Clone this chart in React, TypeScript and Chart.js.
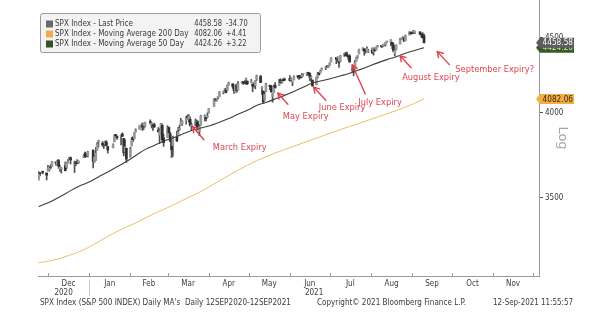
import React, { useEffect, useRef } from "react";
import { Chart, registerables } from "chart.js";
Chart.register(...registerables);

// ---------------- DATA ----------------
const tradeDates = [
  "2020-11-24","2020-11-25","2020-11-27","2020-11-30",
  "2020-12-01","2020-12-02","2020-12-03","2020-12-04","2020-12-07","2020-12-08","2020-12-09","2020-12-10","2020-12-11","2020-12-14","2020-12-15","2020-12-16","2020-12-17","2020-12-18","2020-12-21","2020-12-22","2020-12-23","2020-12-24","2020-12-28","2020-12-29","2020-12-30","2020-12-31",
  "2021-01-04","2021-01-05","2021-01-06","2021-01-07","2021-01-08","2021-01-11","2021-01-12","2021-01-13","2021-01-14","2021-01-15","2021-01-19","2021-01-20","2021-01-21","2021-01-22","2021-01-25","2021-01-26","2021-01-27","2021-01-28","2021-01-29",
  "2021-02-01","2021-02-02","2021-02-03","2021-02-04","2021-02-05","2021-02-08","2021-02-09","2021-02-10","2021-02-11","2021-02-12","2021-02-16","2021-02-17","2021-02-18","2021-02-19","2021-02-22","2021-02-23","2021-02-24","2021-02-25","2021-02-26",
  "2021-03-01","2021-03-02","2021-03-03","2021-03-04","2021-03-05","2021-03-08","2021-03-09","2021-03-10","2021-03-11","2021-03-12","2021-03-15","2021-03-16","2021-03-17","2021-03-18","2021-03-19","2021-03-22","2021-03-23","2021-03-24","2021-03-25","2021-03-26","2021-03-29","2021-03-30","2021-03-31",
  "2021-04-01","2021-04-05","2021-04-06","2021-04-07","2021-04-08","2021-04-09","2021-04-12","2021-04-13","2021-04-14","2021-04-15","2021-04-16","2021-04-19","2021-04-20","2021-04-21","2021-04-22","2021-04-23","2021-04-26","2021-04-27","2021-04-28","2021-04-29","2021-04-30",
  "2021-05-03","2021-05-04","2021-05-05","2021-05-06","2021-05-07","2021-05-10","2021-05-11","2021-05-12","2021-05-13","2021-05-14","2021-05-17","2021-05-18","2021-05-19","2021-05-20","2021-05-21","2021-05-24","2021-05-25","2021-05-26","2021-05-27","2021-05-28",
  "2021-06-01","2021-06-02","2021-06-03","2021-06-04","2021-06-07","2021-06-08","2021-06-09","2021-06-10","2021-06-11","2021-06-14","2021-06-15","2021-06-16","2021-06-17","2021-06-18","2021-06-21","2021-06-22","2021-06-23","2021-06-24","2021-06-25","2021-06-28","2021-06-29","2021-06-30",
  "2021-07-01","2021-07-02","2021-07-06","2021-07-07","2021-07-08","2021-07-09","2021-07-12","2021-07-13","2021-07-14","2021-07-15","2021-07-16","2021-07-19","2021-07-20","2021-07-21","2021-07-22","2021-07-23","2021-07-26","2021-07-27","2021-07-28","2021-07-29","2021-07-30",
  "2021-08-02","2021-08-03","2021-08-04","2021-08-05","2021-08-06","2021-08-09","2021-08-10","2021-08-11","2021-08-12","2021-08-13","2021-08-16","2021-08-17","2021-08-18","2021-08-19","2021-08-20","2021-08-23","2021-08-24","2021-08-25","2021-08-26","2021-08-27","2021-08-30","2021-08-31",
  "2021-09-01","2021-09-02","2021-09-03","2021-09-07","2021-09-08","2021-09-09","2021-09-10",
];

const opens = [
  3594.5,3635.5,3638.6,3634.2,
  3645.9,3653.8,3668.3,3670.9,3694.7,3683.1,3705.9,3659.1,3656.1,3675.3,3666.4,3696.3,3713.7,3722.4,3684.3,3698.1,3693.4,3694.0,3723.0,3750.0,3736.2,3733.3,
  3764.6,3698.0,3712.2,3764.7,3815.1,3803.1,3801.6,3802.2,3814.0,3788.7,3781.9,3816.2,3857.5,3844.2,3851.7,3862.9,3836.8,3755.8,3778.1,
  3731.2,3791.8,3840.3,3836.7,3878.3,3892.6,3910.5,3920.8,3916.4,3911.7,3939.6,3918.5,3915.9,3921.2,3885.6,3857.1,3873.7,3915.8,3839.7,
  3842.5,3903.6,3863.9,3818.5,3793.6,3844.4,3851.9,3891.9,3915.5,3924.5,3942.9,3973.6,3949.6,3953.5,3913.1,3916.5,3937.6,3919.9,3879.3,3917.1,3969.3,3963.3,3967.3,
  3992.8,4034.4,4075.6,4074.3,4089.9,4096.1,4124.7,4130.1,4141.6,4139.8,4174.1,4179.8,4159.2,4128.4,4170.5,4138.8,4185.0,4188.3,4185.1,4206.1,4198.1,
  4191.9,4179.0,4177.1,4169.1,4210.3,4228.3,4150.3,4130.6,4074.9,4129.6,4169.9,4165.9,4098.5,4121.9,4168.6,4170.2,4205.9,4191.6,4201.9,4210.8,
  4216.5,4206.8,4191.4,4206.1,4229.3,4233.8,4232.0,4228.6,4242.9,4248.3,4255.3,4248.9,4220.4,4204.8,4173.4,4224.6,4249.3,4256.0,4274.5,4284.9,4293.2,4290.7,
  4300.7,4326.6,4356.5,4351.0,4321.1,4329.4,4372.4,4381.1,4380.1,4369.0,4367.4,4296.4,4265.1,4331.1,4361.3,4381.2,4409.6,4416.4,4402.9,4403.6,4395.1,
  4406.9,4392.7,4415.9,4408.9,4429.1,4437.8,4435.8,4442.2,4446.1,4464.8,4461.7,4462.1,4440.9,4382.4,4410.6,4450.3,4484.4,4490.5,4493.8,4474.1,4513.8,4529.8,
  4528.8,4534.5,4532.4,4535.4,4518.1,4513.0,4506.9,
];

const highs = [
  3642.3,3635.5,3644.3,3634.2,
  3678.5,3670.9,3682.7,3699.2,3697.4,3708.5,3712.4,3678.5,3665.9,3697.6,3695.3,3711.3,3725.1,3726.7,3702.9,3698.3,3711.2,3703.8,3740.5,3756.1,3744.6,3760.2,
  3769.9,3737.8,3783.0,3811.6,3826.7,3817.9,3810.8,3820.9,3823.6,3788.7,3804.5,3859.8,3861.5,3852.3,3859.2,3870.9,3836.8,3830.5,3778.1,
  3784.3,3843.1,3847.5,3872.4,3894.6,3915.8,3918.4,3931.5,3925.9,3937.2,3950.4,3933.6,3921.0,3930.4,3902.9,3895.9,3928.7,3925.0,3861.1,
  3914.5,3906.4,3874.5,3843.7,3851.7,3881.1,3903.8,3917.4,3960.3,3944.9,3970.1,3981.0,3983.9,3969.6,3930.1,3955.3,3949.1,3942.1,3919.5,3978.2,3981.8,3968.0,3994.4,
  4020.6,4083.4,4086.2,4083.1,4098.2,4129.5,4131.8,4148.0,4151.7,4173.5,4191.3,4180.8,4159.2,4175.0,4179.6,4194.2,4194.2,4193.4,4201.5,4218.8,4198.1,
  4209.4,4179.0,4187.7,4202.7,4238.0,4236.4,4162.0,4135.0,4131.6,4183.1,4171.9,4169.2,4116.9,4172.8,4188.7,4209.5,4213.4,4202.6,4213.4,4218.4,
  4234.1,4217.4,4198.3,4233.5,4232.3,4236.7,4237.1,4249.7,4248.4,4255.6,4257.2,4251.9,4232.3,4204.8,4226.2,4255.8,4256.6,4271.3,4286.1,4292.1,4300.5,4302.4,
  4320.7,4355.4,4356.5,4361.9,4330.9,4372.0,4386.7,4392.4,4393.7,4369.0,4375.1,4296.4,4336.8,4359.7,4369.9,4415.2,4422.7,4416.4,4415.5,4429.9,4412.3,
  4422.2,4423.8,4416.2,4429.8,4440.8,4439.4,4445.2,4449.4,4461.8,4468.4,4480.3,4462.1,4454.3,4418.6,4444.4,4489.9,4492.8,4501.7,4495.9,4513.3,4537.4,4531.4,
  4537.1,4545.9,4541.5,4535.4,4521.8,4529.9,4520.5,
];

const lows = [
  3594.5,3617.8,3629.3,3594.4,
  3645.9,3644.8,3657.2,3670.9,3678.9,3678.8,3660.5,3645.2,3633.4,3645.8,3659.6,3688.6,3710.9,3685.8,3636.5,3676.2,3689.3,3689.3,3723.0,3723.3,3730.2,3726.9,
  3662.7,3695.1,3705.3,3764.7,3783.6,3789.0,3776.5,3791.5,3792.9,3749.6,3780.4,3816.2,3845.1,3830.4,3797.2,3847.8,3732.5,3755.8,3694.1,
  3725.6,3791.8,3816.7,3836.7,3874.9,3892.6,3902.6,3884.9,3890.4,3905.8,3923.9,3900.4,3885.6,3903.1,3874.7,3805.6,3859.6,3814.0,3789.5,
  3842.5,3868.6,3818.9,3723.3,3730.2,3819.3,3851.9,3885.7,3915.5,3915.2,3923.5,3953.4,3935.7,3910.9,3886.8,3914.2,3901.6,3889.1,3853.5,3917.1,3943.3,3944.4,3966.0,
  3992.8,4034.4,4068.1,4068.3,4082.5,4095.5,4114.8,4124.4,4120.9,4139.8,4170.8,4150.5,4118.4,4126.4,4123.7,4138.8,4182.4,4176.2,4181.8,4176.8,4174.9,
  4188.0,4128.6,4158.9,4147.3,4201.6,4188.1,4111.5,4056.6,4074.9,4129.6,4142.7,4125.0,4061.4,4121.9,4151.7,4170.2,4182.5,4184.1,4197.8,4203.6,
  4197.6,4198.3,4167.6,4206.1,4215.7,4208.4,4218.7,4220.3,4232.3,4234.1,4238.4,4202.5,4196.1,4164.4,4173.4,4217.3,4237.6,4256.0,4271.2,4274.7,4287.0,4287.8,
  4300.7,4326.6,4314.4,4329.8,4289.4,4329.4,4364.0,4366.9,4362.5,4340.7,4323.1,4233.1,4262.1,4331.1,4350.1,4381.2,4405.5,4372.5,4387.0,4403.6,4389.7,
  4384.8,4373.0,4400.2,4408.9,4429.1,4424.7,4430.0,4436.4,4435.5,4460.8,4437.7,4417.8,4397.6,4367.7,4406.8,4450.3,4482.7,4485.7,4468.9,4474.1,4513.8,4515.8,
  4522.0,4524.7,4521.9,4513.0,4493.9,4492.1,4457.7,
];

const closes = [
  3635.4,3629.7,3638.4,3621.6,
  3662.5,3669.0,3666.7,3699.1,3692.0,3702.3,3672.8,3668.1,3663.5,3647.5,3694.6,3701.2,3722.5,3709.4,3694.9,3687.3,3690.0,3703.1,3735.4,3727.0,3732.0,3756.1,
  3700.7,3726.9,3748.1,3803.8,3824.7,3799.6,3801.2,3809.8,3795.5,3768.3,3798.9,3851.9,3853.1,3841.5,3855.4,3849.6,3750.8,3787.4,3714.2,
  3773.9,3826.3,3830.2,3871.7,3886.8,3915.6,3911.2,3909.9,3916.4,3934.8,3932.6,3931.3,3914.0,3906.7,3876.5,3881.4,3925.4,3829.3,3811.2,
  3901.8,3870.3,3819.7,3768.5,3841.9,3821.4,3875.4,3898.8,3939.3,3943.3,3968.9,3962.7,3974.1,3915.5,3913.1,3940.6,3910.5,3889.1,3909.5,3974.5,3971.1,3958.6,3972.9,
  4019.9,4077.9,4073.9,4080.0,4097.2,4128.8,4128.0,4141.6,4124.7,4170.4,4185.5,4163.3,4134.9,4173.4,4135.0,4180.2,4187.6,4186.7,4183.2,4211.5,4181.2,
  4192.7,4164.7,4167.6,4201.6,4232.6,4188.4,4152.1,4063.0,4112.5,4173.9,4163.3,4127.8,4115.7,4159.1,4155.9,4197.1,4188.1,4196.0,4200.9,4204.1,
  4202.0,4208.1,4192.9,4229.9,4226.5,4227.3,4219.6,4239.2,4247.4,4255.2,4246.6,4223.7,4221.9,4166.5,4224.8,4246.4,4241.8,4266.5,4280.7,4290.6,4291.8,4297.5,
  4319.9,4352.3,4343.5,4358.1,4320.8,4369.6,4384.6,4369.2,4374.3,4360.0,4327.2,4258.5,4323.1,4358.7,4367.5,4411.8,4422.3,4401.5,4400.6,4419.2,4395.3,
  4387.2,4423.2,4402.7,4429.1,4436.5,4432.4,4436.8,4447.7,4460.8,4468.0,4479.7,4448.1,4400.3,4405.8,4441.7,4479.5,4486.2,4496.2,4470.0,4509.4,4528.8,4522.7,
  4524.1,4537.0,4535.4,4520.0,4514.1,4493.3,4458.58,
];

const maDates = [
  "2020-11-24","2020-12-04","2020-12-11","2020-12-18","2020-12-24","2020-12-31",
  "2021-01-08","2021-01-15","2021-01-22","2021-01-29","2021-02-05","2021-02-12","2021-02-19","2021-02-26",
  "2021-03-05","2021-03-12","2021-03-19","2021-03-26","2021-04-01","2021-04-09","2021-04-16","2021-04-23","2021-04-30",
  "2021-05-07","2021-05-14","2021-05-21","2021-05-28","2021-06-04","2021-06-11","2021-06-18","2021-06-25",
  "2021-07-02","2021-07-09","2021-07-16","2021-07-23","2021-07-30","2021-08-06","2021-08-13","2021-08-20","2021-08-27",
  "2021-09-03","2021-09-10",
];
const ma50Values = [
  3447,3478,3505,3535,3558,3580,
  3612,3640,3670,3700,3735,3770,3795,3820,
  3840,3862,3885,3900,3912,3935,3958,3985,4010,
  4040,4060,4082,4105,4130,4158,4185,4200,
  4215,4232,4250,4272,4295,4320,4342,4362,4385,
  4405,4424.26,
];
const ma200Values = [
  3157,3168,3180,3196,3210,3232,
  3262,3290,3315,3338,3360,3385,3410,3432,
  3455,3480,3505,3530,3555,3590,3620,3650,3678,
  3705,3728,3750,3770,3790,3810,3830,3850,
  3870,3890,3910,3928,3948,3968,3988,4008,4030,
  4055,4082.06,
];

const yTickValues = [3500, 4000, 4500];
const monthLabels = ["Dec","Jan","Feb","Mar","Apr","May","Jun","Jul","Aug","Sep","Oct","Nov"];
const monthStarts = [
  "2020-12-01","2021-01-01","2021-02-01","2021-03-01","2021-04-01","2021-05-01","2021-06-01",
  "2021-07-01","2021-08-01","2021-09-01","2021-10-01","2021-11-01","2021-12-01",
];
const yearLabels = ["2020","2021"];
const yearStarts = ["2021-01-01"];

const legendLabels = [
  "SPX Index - Last Price",
  "SPX Index - Moving Average 200 Day",
  "SPX Index - Moving Average 50 Day",
];
const legendValues = ["4458.58","4082.06","4424.26"];
const legendChanges = ["-34.70","+4.41","+3.22"];
const lastValues = [4458.58, 4082.06, 4424.26];

const annoLabels = ["March Expiry","May Expiry","June Expiry","July Expiry","August Expiry","September Expiry?"];
const annoDates = ["2021-03-20","2021-05-23","2021-06-19","2021-07-18","2021-08-23","2021-09-20"];
const annoValues = [3908, 4119, 4158, 4306, 4368, 4397];

const footerLeft = "SPX Index (S&P 500 INDEX) Daily MA's  Daily 12SEP2020-12SEP2021";
const footerMid = "Copyright\u00A9 2021 Bloomberg Finance L.P.";
const footerRight = "12-Sep-2021 11:55:57";

// ---------------- LAYOUT / STYLE ----------------
const W = 600, H = 313;
const day = (s: string) => {
  const [y, m, d] = s.split("-").map(Number);
  return (Date.UTC(y, m - 1, d) - Date.UTC(2021, 0, 1)) / 86400000;
};
const X_MIN = day("2020-11-24") - 0.5;
const X_MAX = day("2021-12-05") + 0.5;
const Y_MIN = 3091.6;
const Y_MAX = 4768;
const FONT = "'DejaVu Sans', sans-serif";
const SX = 0.9;
const TEXT = "#3a3a3a";
const AXIS = "#9a9a9a";
const RED = "#e0434f";
const TAG_COLORS = ["#5d5d5d", "#f2ae45", "#3b5a26"];
const TAG_TEXT = ["#ffffff", "#3a2a10", "#d8e8c8"];
const SWATCH = ["#6a6a6a", "#f0ae48", "#34522a"];
// offsets (px) relative to arrow tip: tail dx, tail dy, text dx, text dy
const ANNO_LAYOUT = [
  [11, 13, 20, 21],
  [10, 11, 5, 23],
  [12, 13, 5, 20],
  [13, 29, 6, 38],
  [11, 12, 2, 22],
  [12, 13, 18, 18],
];

function drawText(
  ctx: CanvasRenderingContext2D, s: string, x: number, y: number,
  font: string, color: string, align: "left" | "center" | "right" = "left",
  sx: number = SX, width?: number
) {
  ctx.save();
  ctx.font = font;
  ctx.fillStyle = color;
  ctx.textBaseline = "middle";
  ctx.textAlign = "left";
  const w0 = ctx.measureText(s).width;
  const k = width ? width / w0 : sx;
  const w = w0 * k;
  const x0 = align === "center" ? x - w / 2 : align === "right" ? x - w : x;
  ctx.translate(x0, y);
  ctx.scale(k, 1);
  ctx.fillText(s, 0, 0);
  ctx.restore();
}

function seg(ctx: CanvasRenderingContext2D, x1: number, y1: number, x2: number, y2: number) {
  ctx.beginPath();
  ctx.moveTo(x1, y1);
  ctx.lineTo(x2, y2);
  ctx.stroke();
}

const overlay = {
  id: "overlay",
  afterDraw(chart: any) {
    const ctx: CanvasRenderingContext2D = chart.ctx;
    const xs = chart.scales.x;
    const ys = chart.scales.y;
    const a = chart.chartArea;
    ctx.save();

    // axes
    ctx.strokeStyle = AXIS;
    ctx.lineWidth = 1;
    seg(ctx, a.left, Math.round(a.bottom) + 0.5, a.right + 1, Math.round(a.bottom) + 0.5);
    seg(ctx, Math.round(a.right) + 0.5, 0, Math.round(a.right) + 0.5, a.bottom + 1);

    // month ticks
    monthStarts.forEach((m) => {
      const px = Math.round(xs.getPixelForValue(day(m))) + 0.5;
      seg(ctx, px, a.bottom - 3, px, a.bottom);
    });
    // year separator
    ctx.strokeStyle = "#c8c8c8";
    yearStarts.forEach((ys0) => {
      const px = Math.round(xs.getPixelForValue(day(ys0))) + 0.5;
      seg(ctx, px, a.bottom + 4, px, a.bottom + 20);
    });

    // month labels
    const f8 = `8px ${FONT}`;
    monthLabels.forEach((lab, i) => {
      const c = (xs.getPixelForValue(day(monthStarts[i])) + xs.getPixelForValue(day(monthStarts[i + 1]))) / 2;
      drawText(ctx, lab, c, a.bottom + 7.5, f8, TEXT, "center");
    });
    // year labels centred on the visible part of each year
    const yBounds = [X_MIN, ...yearStarts.map(day), X_MAX];
    yearLabels.forEach((lab, i) => {
      const c = (xs.getPixelForValue(yBounds[i]) + xs.getPixelForValue(yBounds[i + 1])) / 2;
      drawText(ctx, lab, c, a.bottom + 16.5, f8, TEXT, "center");
    });

    // footer
    drawText(ctx, footerLeft, 40, 303, f8, TEXT, "left", SX, 251);
    drawText(ctx, footerMid, 317, 303, f8, TEXT, "left", SX, 149);
    drawText(ctx, footerRight, 493, 303, f8, TEXT, "left", SX, 80);

    // y ticks
    ctx.strokeStyle = "#555";
    yTickValues.forEach((v) => {
      const py = Math.round(ys.getPixelForValue(v)) + 0.5;
      seg(ctx, a.right + 1, py, a.right + 4, py);
      drawText(ctx, String(v), a.right + 6, py, f8, TEXT, "left");
    });

    // "Log"
    ctx.save();
    ctx.translate(562, 138);
    ctx.rotate(Math.PI / 2);
    drawText(ctx, "Log", 0, 0, `13px ${FONT}`, "#a6a6a6", "center", 1);
    ctx.restore();

    // price tags: green (50d) under gray (last), then orange (200d)
    const tagOrder = [2, 0, 1];
    tagOrder.forEach((i) => {
      const py = ys.getPixelForValue(lastValues[i]);
      const x0 = a.right - 3, x1 = a.right + 1, x2 = 574;
      const h = 5;
      ctx.beginPath();
      ctx.moveTo(x0, py);
      ctx.lineTo(x1, py - h);
      ctx.lineTo(x2, py - h);
      ctx.lineTo(x2, py + h);
      ctx.lineTo(x1, py + h);
      ctx.closePath();
      ctx.fillStyle = TAG_COLORS[i];
      ctx.fill();
      drawText(ctx, legendValues[i], x2 - 1, py + 0.5, f8, TAG_TEXT[i], "right", 0.92);
    });

    // annotations
    ctx.strokeStyle = RED;
    ctx.lineWidth = 1.4;
    ctx.lineCap = "round";
    annoLabels.forEach((lab, i) => {
      const tx = xs.getPixelForValue(day(annoDates[i]));
      const ty = ys.getPixelForValue(annoValues[i]);
      const [tdx, tdy, lx, ly] = ANNO_LAYOUT[i];
      const ex = tx + tdx, ey = ty + tdy;
      seg(ctx, tx, ty, ex, ey);
      const ang = Math.atan2(ey - ty, ex - tx);
      const L = 6, spread = 0.55;
      seg(ctx, tx, ty, tx + L * Math.cos(ang - spread), ty + L * Math.sin(ang - spread));
      seg(ctx, tx, ty, tx + L * Math.cos(ang + spread), ty + L * Math.sin(ang + spread));
      drawText(ctx, lab, tx + lx, ty + ly, `9px ${FONT}`, RED, "left", 0.92);
    });

    // legend box
    const bx = 40.5, by = 13.5, bw = 220, bh = 39;
    ctx.fillStyle = "#f3f3f3";
    ctx.strokeStyle = "#9c9c9c";
    ctx.lineWidth = 1;
    ctx.beginPath();
    ctx.roundRect(bx, by, bw, bh, 2);
    ctx.fill();
    ctx.stroke();
    legendLabels.forEach((lab, i) => {
      const cy = 24 + i * 10;
      ctx.fillStyle = SWATCH[i];
      ctx.fillRect(46, cy - 3.5, 7, 7);
      drawText(ctx, lab, 55, cy, f8, TEXT, "left", 0.9);
      drawText(ctx, legendValues[i], 222, cy, f8, TEXT, "right", 0.84);
      drawText(ctx, legendChanges[i], 226, cy, f8, TEXT, "left", 0.84);
    });

    ctx.restore();
  },
};

export default function App() {
  const ref = useRef<HTMLCanvasElement>(null);
  useEffect(() => {
    const canvas = ref.current!;
    const xs = tradeDates.map(day);
    const chart = new Chart(canvas, {
      type: "bar",
      data: {
        datasets: [
          {
            type: "line",
            label: "MA 50",
            data: maDates.map((d, i) => ({ x: day(d), y: ma50Values[i] })),
            borderColor: "#3e3e38",
            borderWidth: 1.1,
            pointRadius: 0,
            cubicInterpolationMode: "monotone",
            order: 0,
          } as any,
          {
            type: "line",
            label: "MA 200",
            data: maDates.map((d, i) => ({ x: day(d), y: ma200Values[i] })),
            borderColor: "#ecbd6a",
            borderWidth: 1,
            pointRadius: 0,
            cubicInterpolationMode: "monotone",
            order: 0,
          } as any,
          {
            type: "bar",
            label: "Wick",
            data: xs.map((x, i) => ({ x, y: [lows[i], highs[i]] })),
            backgroundColor: "#4f4f4f",
            borderWidth: 0,
            barThickness: 1,
            grouped: false,
            order: 2,
          } as any,
          {
            type: "bar",
            label: "Body",
            data: xs.map((x, i) => ({ x, y: [opens[i], closes[i]] })),
            backgroundColor: xs.map((_, i) => (closes[i] >= opens[i] ? "#9a9a9a" : "#2e2e2e")),
            borderWidth: 0,
            barThickness: 2,
            minBarLength: 1,
            grouped: false,
            order: 1,
          } as any,
        ],
      },
      options: {
        responsive: false,
        devicePixelRatio: 1,
        animation: false,
        events: [],
        layout: { padding: { left: 38, right: W - 539, top: 0, bottom: H - 276 } },
        plugins: { legend: { display: false }, tooltip: { enabled: false } },
        scales: {
          x: { type: "linear", display: false, min: X_MIN, max: X_MAX, offset: false },
          y: { type: "logarithmic", display: false, min: Y_MIN, max: Y_MAX, bounds: "data" },
        },
      },
      plugins: [overlay],
    } as any);
    return () => chart.destroy();
  }, []);
  return (
    <div style={{ position: "fixed", left: 0, top: 0, width: W, height: H, background: "#fff" }}>
      <canvas ref={ref} width={W} height={H} style={{ display: "block", width: W, height: H }} />
    </div>
  );
}
